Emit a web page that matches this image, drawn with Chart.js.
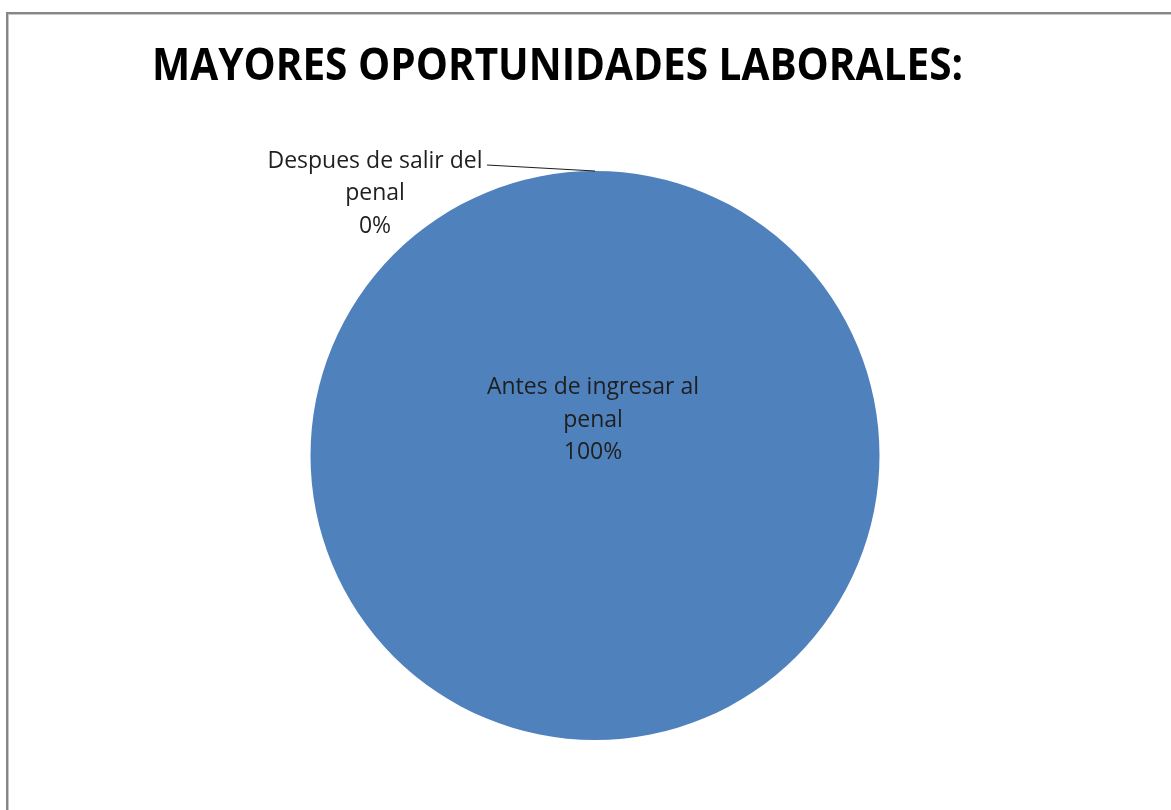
<!DOCTYPE html>
<html>
<head>
<meta charset="utf-8">
<script src="https://cdn.jsdelivr.net/npm/chart.js@4.4.0/dist/chart.umd.min.js"></script>
<style>
  html, body { margin: 0; padding: 0; background: #fff; }
  body { width: 1171px; height: 810px; overflow: hidden; position: relative; }
  #frame {
    position: absolute; left: 6px; top: 12px; width: 1200px; height: 850px;
    border-top: 2px solid #868686; border-left: 2px solid #868686;
    box-shadow: inset 1px 1px 0 #c8c8c8;
  }
  #wrap { position: absolute; left: 0; top: 0; width: 1171px; height: 810px; }
</style>
</head>
<body>
<div id="frame"></div>
<div id="wrap"><canvas id="pie"></canvas></div>
<script>
const chartTitle = "MAYORES OPORTUNIDADES LABORALES:";
const categories = [
  ["Antes de ingresar al", "penal"],
  ["Despues de salir del", "penal"]
];
const values = [100, 0];
const percentLabels = ["100%", "0%"];
const sliceColors = ["#4F81BD", "#C0504D"];

const labelFont = '23px "Open Sans", "Liberation Sans", sans-serif';
const textColor = "#1f1f1f";

/* ── title, drawn to the width of the original ── */
const titlePlugin = {
  id: "sheetTitle",
  afterDraw(chart) {
    const ctx = chart.ctx;
    ctx.save();
    ctx.font = 'bold 45px "Open Sans", "Liberation Sans", sans-serif';
    ctx.fillStyle = "#000";
    ctx.textBaseline = "alphabetic";
    ctx.textAlign = "left";
    const w = ctx.measureText(chartTitle).width;
    const target = 811;
    ctx.translate(152, 80);
    ctx.scale(target / w, 1);
    ctx.fillText(chartTitle, 0, 0);
    ctx.restore();
  }
};

/* ── slice labels ── */
const labelPlugin = {
  id: "sliceLabels",
  afterDatasetsDraw(chart) {
    const ctx = chart.ctx;
    const arcs = chart.getDatasetMeta(0).data;
    ctx.save();
    ctx.font = labelFont;
    ctx.fillStyle = textColor;
    ctx.textAlign = "center";
    ctx.textBaseline = "middle";
    const lh = 32.5;

    // big slice, text in the middle
    const a0 = arcs[0];
    const lines0 = categories[0].concat(percentLabels[0]);
    lines0.forEach((t, i) => ctx.fillText(t, a0.x - 2, a0.y - 68 + i * lh));

    // empty slice, text outside with a leader line
    const a1 = arcs[1];
    const ang = a1.startAngle;
    const px = a1.x + Math.cos(ang) * a1.outerRadius;
    const py = a1.y + Math.sin(ang) * a1.outerRadius;
    ctx.strokeStyle = "#1f1f1f";
    ctx.lineWidth = 1.2;
    ctx.beginPath();
    ctx.moveTo(px, py);
    ctx.lineTo(px - 108, py - 6);
    ctx.stroke();
    const lines1 = categories[1].concat(percentLabels[1]);
    lines1.forEach((t, i) => ctx.fillText(t, px - 220, py - 10 + i * lh));
    ctx.restore();
  }
};

new Chart(document.getElementById("pie"), {
  type: "pie",
  data: {
    labels: categories.map((c) => c.join(" ")),
    datasets: [{
      data: values,
      backgroundColor: sliceColors,
      borderWidth: 0
    }]
  },
  options: {
    responsive: true,
    maintainAspectRatio: false,
    animation: false,
    layout: { padding: { top: 171, bottom: 70, left: 310, right: 291 } },
    plugins: {
      legend: { display: false },
      tooltip: { enabled: false },
      title: { display: false }
    }
  },
  plugins: [titlePlugin, labelPlugin]
});
</script>
</body>
</html>
